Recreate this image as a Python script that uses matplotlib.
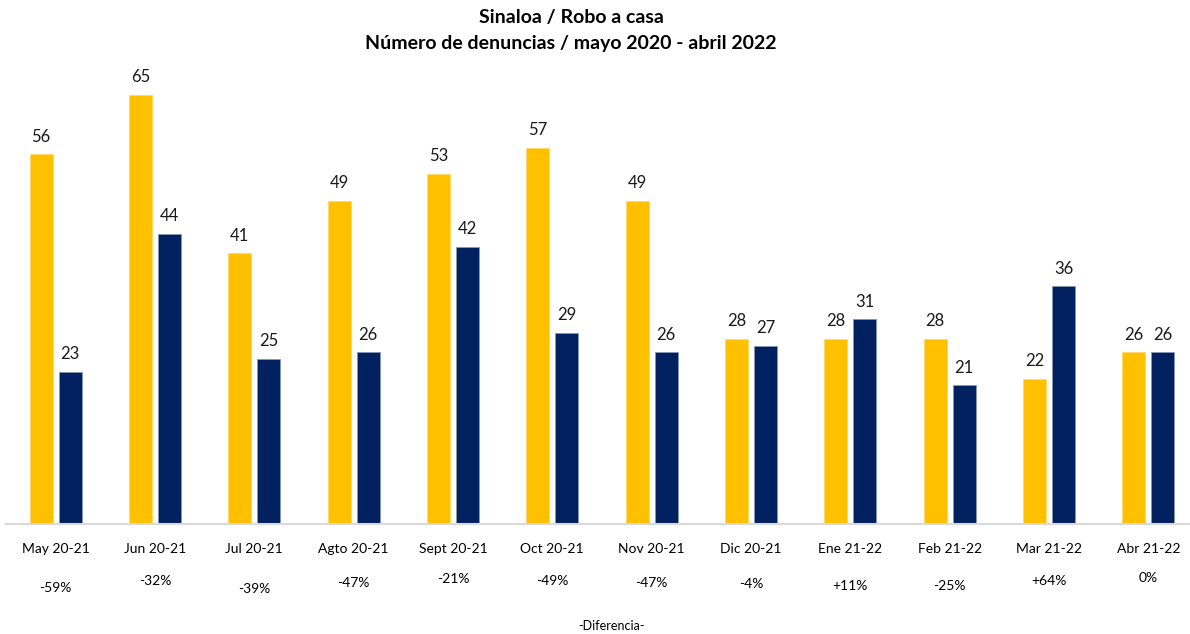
import matplotlib.pyplot as plt
import numpy as np

plt.rcParams['font.family'] = ['Lato', 'DejaVu Sans']

months = ["May 20-21", "Jun 20-21", "Jul 20-21", "Agto 20-21", "Sept 20-21", "Oct 20-21",
          "Nov 20-21", "Dic 20-21", "Ene 21-22", "Feb 21-22", "Mar 21-22", "Abr 21-22"]
prev_year = [56, 65, 41, 49, 53, 57, 49, 28, 28, 28, 22, 26]
curr_year = [23, 44, 25, 26, 42, 29, 26, 27, 31, 21, 36, 26]
diff_labels = ["-59%", "-32%", "-39%", "-47%", "-21%", "-49%",
               "-47%", "-4%", "+11%", "-25%", "+64%", "0%"]

# small vertical jitter of the difference labels, as in the original
diff_y = [588, 581, 589, 583, 579, 581, 583, 584, 586, 586, 581, 578]

W, H = 1190, 634
fig = plt.figure(figsize=(W / 100, H / 100), dpi=100)
ax = fig.add_axes([6 / W, (H - 524) / H, (1190 - 6) / W, 462 / H])

x = np.arange(len(months))
bw = 0.232
off = 0.146
b1 = ax.bar(x - off, prev_year, bw, color="#FFC000", edgecolor="#FFD966", linewidth=0.6)
b2 = ax.bar(x + off, curr_year, bw, color="#002060", edgecolor="#8497B0", linewidth=0.6)

for bars, vals in ((b1, prev_year), (b2, curr_year)):
    for r, v in zip(bars, vals):
        ax.annotate(str(v), (r.get_x() + r.get_width() / 2, v), xytext=(0, 7),
                    textcoords="offset points", ha="center", va="bottom",
                    fontsize=12, color="#1a1a1a")

ax.set_xlim(-0.5, 11.42)
ax.set_ylim(0, 70)
ax.set_yticks([])
ax.set_xticks(x)
ax.set_xticklabels(months, fontsize=10)
ax.tick_params(axis="x", length=0, pad=14)
for s in ("top", "right", "left"):
    ax.spines[s].set_visible(False)
ax.spines["bottom"].set_color("#D9D9D9")
ax.spines["bottom"].set_linewidth(1.5)

for xi, lab, yp in zip(x, diff_labels, diff_y):
    xf = ax.transData.transform((xi, 0))[0] / W
    fig.text(xf, 1 - yp / H, lab, ha="center", va="center", fontsize=10)

fig.text(612 / W, 1 - 626 / H, "-Diferencia-", ha="center", va="center", fontsize=9)
fig.text(571 / W, 1 - 17 / H, "Sinaloa / Robo a casa", ha="center", va="center",
         fontsize=14, fontweight="bold")
fig.text(571 / W, 1 - 43 / H, "Número de denuncias / mayo 2020 - abril 2022", ha="center",
         va="center", fontsize=14, fontweight="bold")

fig.savefig("out.png", dpi=100)
